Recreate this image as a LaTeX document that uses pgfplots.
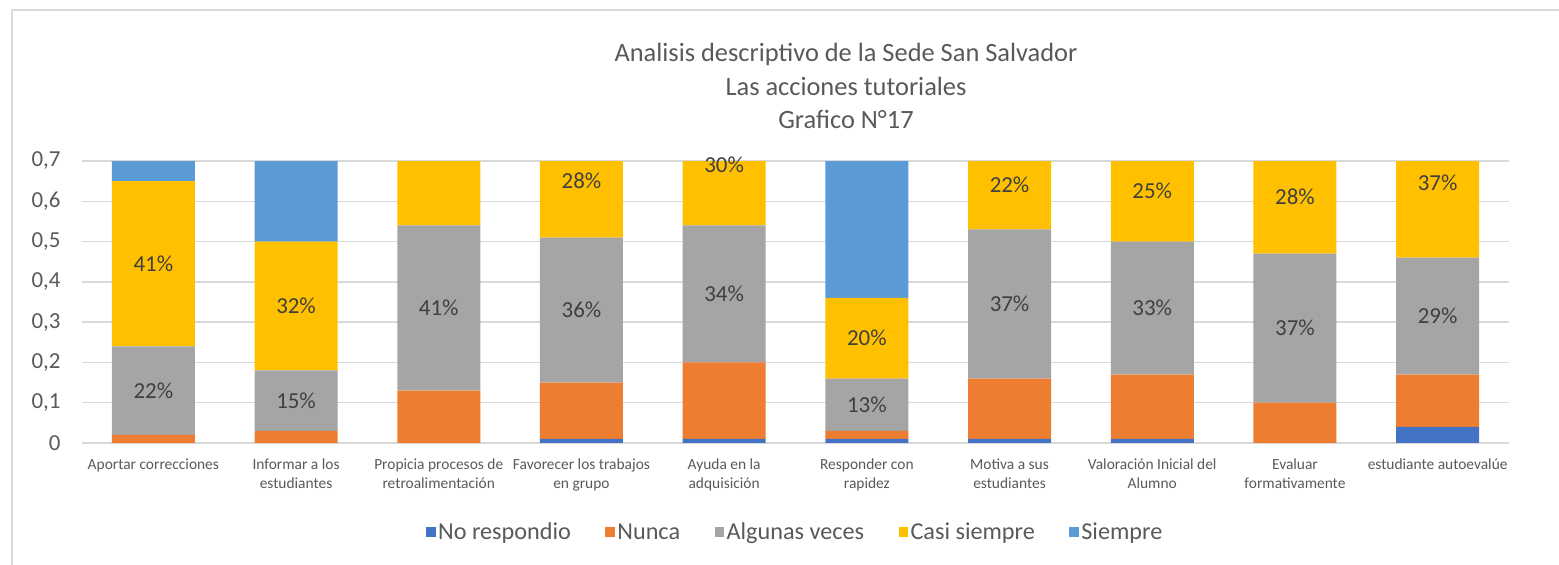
\documentclass[border=0pt]{standalone}
\usepackage{fontspec}
\setmainfont{Carlito}
\usepackage{pgfplots}
\pgfplotsset{compat=1.18}
\usepackage{pgfplotstable}
\definecolor{cNR}{HTML}{4472C4}
\definecolor{cNU}{HTML}{ED7D31}
\definecolor{cAL}{HTML}{A5A5A5}
\definecolor{cCA}{HTML}{FFC000}
\definecolor{cSI}{HTML}{5B9BD5}
\definecolor{txt}{HTML}{595959}
\definecolor{lab}{HTML}{404040}
\definecolor{gridc}{HTML}{D9D9D9}

\pgfplotstableread{
x nr nu al ca si
0 0    0.02 0.22 0.41 0.35
1 0    0.03 0.15 0.32 0.50
2 0    0.13 0.41 0.40 0.06
3 0.01 0.14 0.36 0.28 0.21
4 0.01 0.19 0.34 0.30 0.16
5 0.01 0.02 0.13 0.20 0.64
6 0.01 0.15 0.37 0.22 0.25
7 0.01 0.16 0.33 0.25 0.25
8 0    0.10 0.37 0.28 0.25
9 0.04 0.13 0.29 0.37 0.17
}\datatab

\pgfplotstableread{
x y v
0 0.130 22
0 0.445 41
1 0.105 15
1 0.340 32
2 0.335 41
3 0.330 36
3 0.650 28
4 0.370 34
4 0.690 30
5 0.095 13
5 0.260 20
6 0.345 37
6 0.640 22
7 0.335 33
7 0.625 25
8 0.285 37
8 0.610 28
9 0.315 29
9 0.645 37
}\labtab

\begin{document}
\begin{tikzpicture}
\path[use as bounding box] (0bp,0bp) rectangle (1559bp,565bp);
\draw[color=gridc, line width=1.5bp] (12bp,0bp) -- (12bp,555bp) -- (1559bp,555bp);
\node[font=\fontsize{26.5}{34}\selectfont, text=txt, align=center] at (846bp,479bp)
  {Analisis descriptivo de la Sede San Salvador\\Las acciones tutoriales\\Grafico N°17};

\begin{axis}[
  at={(82bp,122bp)}, anchor=south west,
  scale only axis, width=1427bp, height=282bp,
  ybar stacked, bar width=83bp,
  xmin=-0.5, xmax=9.5, ymin=0, ymax=0.7,
  ytick={0,0.1,0.2,0.3,0.4,0.5,0.6,0.7},
  xtick={0,1,2,3,4,5,6,7,8,9},
  xticklabels={Aportar correcciones,{Informar a los\\estudiantes},{Propicia procesos de\\retroalimentación},{Favorecer los trabajos\\en grupo},{Ayuda en la\\adquisición},{Responder con\\rapidez},{Motiva a sus\\estudiantes},{Valoración Inicial del\\Alumno},{Evaluar\\formativamente},estudiante autoevalúe},
  xticklabel style={align=center, font=\fontsize{15.5}{19}\selectfont, text=txt, anchor=north, yshift=-12bp},
  yticklabel style={font=\fontsize{23}{27}\selectfont, text=txt, xshift=-18bp,
     /pgf/number format/.cd, use comma, fixed, precision=1, assume math mode=true},
  axis line style={draw=none},
  major tick length=0pt, tick style={draw=none},
  ymajorgrids, grid style={color=gridc, line width=1.3bp},
  legend columns=5,
  legend style={at={(0.5,-0.316)}, anchor=center, draw=none, fill=none,
     font=\fontsize{24.3}{28}\selectfont, text=txt,
     nodes={inner xsep=2.5bp},
     /tikz/every even column/.append style={column sep=32bp}},
  legend image code/.code={\fill[#1] (0bp,-4.7bp) rectangle (9.5bp,4.7bp);},
]
\addplot[fill=cNR, draw=none] table[x=x,y=nr]{\datatab};
\addplot[fill=cNU, draw=none] table[x=x,y=nu]{\datatab};
\addplot[fill=cAL, draw=none] table[x=x,y=al]{\datatab};
\addplot[fill=cCA, draw=none] table[x=x,y=ca]{\datatab};
\addplot[fill=cSI, draw=none] table[x=x,y=si]{\datatab};
\legend{No respondio,Nunca,Algunas veces,Casi siempre,Siempre}
\end{axis}

\begin{axis}[
  at={(82bp,122bp)}, anchor=south west,
  scale only axis, width=1427bp, height=282bp,
  xmin=-0.5, xmax=9.5, ymin=0, ymax=0.7,
  hide axis,
]
\addplot[only marks, mark=*, mark size=0pt, mark options={draw=none, fill=none},
  point meta=explicit,
  nodes near coords={\pgfmathprintnumber[assume math mode=true, fixed, precision=0]{\pgfplotspointmeta}\%},
  every node near coord/.style={anchor=center, font=\fontsize{23}{27}\selectfont, text=lab}]
  table[x=x,y=y,meta=v]{\labtab};
\end{axis}
\end{tikzpicture}
\end{document}
